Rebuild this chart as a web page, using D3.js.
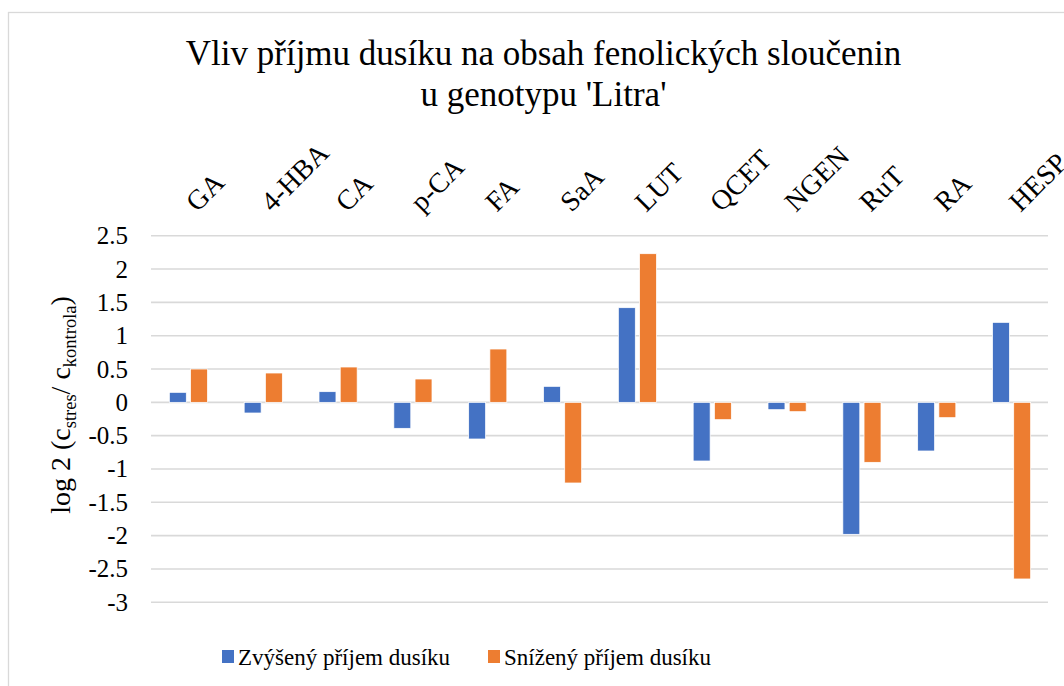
<!DOCTYPE html>
<html>
<head>
<meta charset="utf-8">
<script src="https://cdn.jsdelivr.net/npm/d3@7"></script>
<style>
  body { margin: 0; background: #fff; }
</style>
</head>
<body>
<script>
var w = 1064;
var h = 686;
var serif = '"Liberation Serif", "DejaVu Serif", serif';

var categories = ['GA', '4-HBA', 'CA', 'p-CA', 'FA', 'SaA', 'LUT', 'QCET', 'NGEN', 'RuT', 'RA', 'HESP'];
var seriesNames = ['Zvýšený příjem dusíku', 'Snížený příjem dusíku'];
var zvyseny = [0.15, -0.16, 0.16, -0.39, -0.55, 0.24, 1.42, -0.88, -0.11, -1.98, -0.73, 1.2];
var snizeny = [0.5, 0.44, 0.53, 0.35, 0.8, -1.21, 2.23, -0.26, -0.14, -0.9, -0.23, -2.65];
var yTicks = [2.5, 2, 1.5, 1, 0.5, 0, -0.5, -1, -1.5, -2, -2.5, -3];
var titleLines = ['Vliv příjmu dusíku na obsah fenolických sloučenin', "u genotypu 'Litra'"];

var colors = ['#4472C4', '#ED7D31'];
var series = [zvyseny, snizeny];

var svg = d3.select('body').append('svg')
  .attr('width', w).attr('height', h)
  .attr('font-family', serif);

// chart frame (cut on the right and bottom like the picture)
svg.append('rect')
  .attr('x', 8.5).attr('y', 12.5)
  .attr('width', w + 20).attr('height', h + 20)
  .attr('fill', '#fff').attr('stroke', '#d9d9d9').attr('stroke-width', 1.3);

var x0 = d3.scaleBand().domain(categories).range([151, 1049]);
var bw = x0.bandwidth();
var x1 = d3.scaleBand().domain(d3.range(series.length))
  .range([bw * 0.245, bw * 0.755]).paddingInner(0.2);
var y = d3.scaleLinear().domain([-3, 2.5]).range([602.3, 235.7]);

// gridlines
svg.append('g')
  .selectAll('line')
  .data(yTicks)
  .enter()
  .append('line')
  .attr('x1', 151).attr('x2', 1048)
  .attr('y1', function(d) { return y(d); })
  .attr('y2', function(d) { return y(d); })
  .attr('stroke', '#d9d9d9').attr('stroke-width', 1.6);

// y tick labels
svg.append('g')
  .selectAll('text')
  .data(yTicks)
  .enter()
  .append('text')
  .attr('x', 128)
  .attr('y', function(d) { return y(d); })
  .attr('dy', '0.34em')
  .attr('text-anchor', 'end')
  .attr('font-size', 25)
  .text(function(d) { return String(d); });

// bars
var groups = svg.append('g')
  .selectAll('g')
  .data(categories)
  .enter()
  .append('g')
  .attr('transform', function(d) { return 'translate(' + x0(d) + ',0)'; });

groups.selectAll('rect')
  .data(function(d, i) { return series.map(function(s, k) { return {k: k, v: s[i]}; }); })
  .enter()
  .append('rect')
  .attr('x', function(d) { return x1(d.k); })
  .attr('width', x1.bandwidth())
  .attr('y', function(d) { return y(Math.max(0, d.v)); })
  .attr('height', function(d) { return Math.abs(y(d.v) - y(0)); })
  .attr('fill', function(d) { return colors[d.k]; })
  .attr('stroke', '#fff').attr('stroke-width', 0.75);

// category labels on top, rotated
svg.append('g')
  .selectAll('text')
  .data(categories)
  .enter()
  .append('text')
  .attr('transform', function(d) {
    return 'translate(' + (x0(d) + bw / 2) + ',204) rotate(-45)';
  })
  .attr('dy', '0.45em')
  .attr('font-size', 28)
  .text(function(d) { return d; });

// title
svg.append('g')
  .selectAll('text')
  .data(titleLines)
  .enter()
  .append('text')
  .attr('x', 543.5)
  .attr('y', function(d, i) { return 65 + i * 41; })
  .attr('text-anchor', 'middle')
  .attr('font-size', 35)
  .text(function(d) { return d; });

// y axis title
var yt = svg.append('text')
  .attr('transform', 'translate(70,405) rotate(-90)')
  .attr('text-anchor', 'middle')
  .attr('font-size', 28);
yt.append('tspan').text('log 2 (c');
yt.append('tspan').attr('font-size', 18.5).attr('dy', 6).text('stres');
yt.append('tspan').attr('dy', -6).text('/ c');
yt.append('tspan').attr('font-size', 18.5).attr('dy', 6).text('kontrola');
yt.append('tspan').attr('dy', -6).text(')');

// legend
var legendX = [222, 488];
var legend = svg.append('g')
  .selectAll('g')
  .data(seriesNames)
  .enter()
  .append('g')
  .attr('transform', function(d, i) { return 'translate(' + legendX[i] + ',650)'; });

legend.append('rect')
  .attr('width', 12).attr('height', 13)
  .attr('fill', function(d, i) { return colors[i]; });

legend.append('text')
  .attr('x', 16).attr('y', 15)
  .attr('font-size', 23)
  .text(function(d) { return d; });
</script>
</body>
</html>
